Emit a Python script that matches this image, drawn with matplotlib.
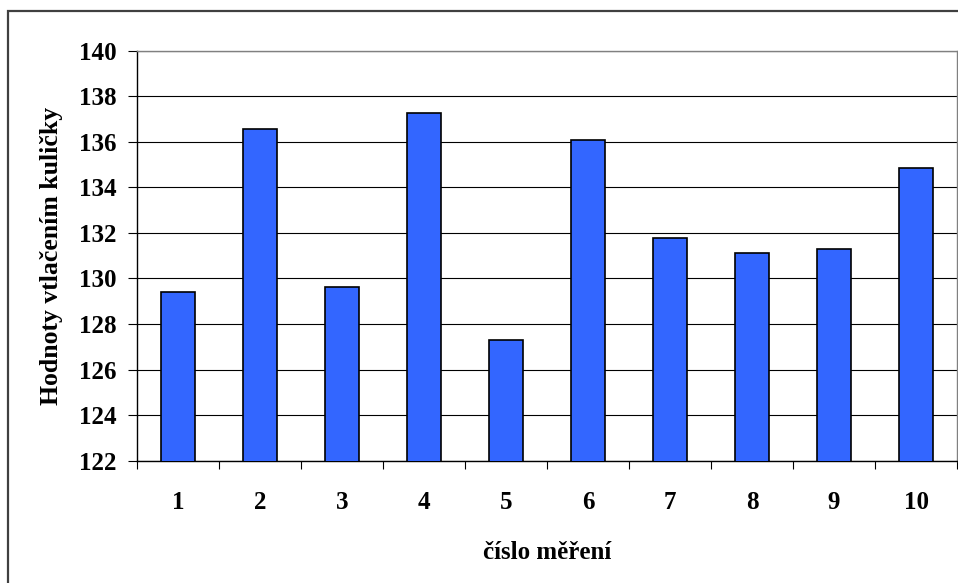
import matplotlib
matplotlib.use("Agg")
import matplotlib.pyplot as plt
from matplotlib.patches import Rectangle
import numpy as np

categories = ["1", "2", "3", "4", "5", "6", "7", "8", "9", "10"]
values = [129.4, 136.55, 129.62, 137.25, 127.3, 136.1, 131.78, 131.13, 131.28, 134.87]
yticks = [122, 124, 126, 128, 130, 132, 134, 136, 138, 140]

plt.rcParams['font.family'] = ['Liberation Serif', 'DejaVu Serif']

fig = plt.figure(figsize=(9.58, 5.83), dpi=100)
ax = fig.add_axes([137/958, 1 - 460.7/583, (957-137)/958, (460.7-50.7)/583])

x = np.arange(len(categories))
ax.bar(x, values, width=0.42, bottom=0, color="#3366FF", edgecolor="black", linewidth=1.2, zorder=3)

ax.set_ylim(122, 140)
ax.set_xlim(-0.5, len(categories) - 0.5)
ax.set_yticks(yticks)
ax.set_yticklabels([str(t) for t in yticks], fontsize=18, fontweight="bold")
ax.yaxis.grid(True, color="black", linewidth=0.8, zorder=0)

# category boundary ticks (no labels), labels at centers
ax.set_xticks(np.arange(-0.5, len(categories)), minor=False)
ax.set_xticklabels([""] * (len(categories) + 1))
ax.set_xticks(x, minor=True)
ax.set_xticklabels(categories, minor=True, fontsize=18, fontweight="bold")
ax.tick_params(axis="x", which="major", direction="out", length=5.5, width=0.8, color="black")
ax.tick_params(axis="x", which="minor", length=0, pad=22)
ax.tick_params(axis="y", direction="out", length=6.5, width=0.8, color="black", pad=8)

for s in ["left", "bottom"]:
    ax.spines[s].set_color("black")
    ax.spines[s].set_linewidth(1.0)
for s in ["top", "right"]:
    ax.spines[s].set_color("#808080")
    ax.spines[s].set_linewidth(1.0)

ax.set_xlabel("číslo měření", fontsize=18, fontweight="bold", labelpad=19)
ax.set_ylabel("Hodnoty vtlačením kuličky", fontsize=18.5, fontweight="bold", labelpad=12)

# outer chart frame
frame = Rectangle((8/958, -0.1), 1.2, 1 - 10.7/583 + 0.1, transform=fig.transFigure,
                  fill=False, edgecolor="#404040", linewidth=1.6, clip_on=False)
fig.patches.append(frame)

fig.savefig("out.png", dpi=100)
